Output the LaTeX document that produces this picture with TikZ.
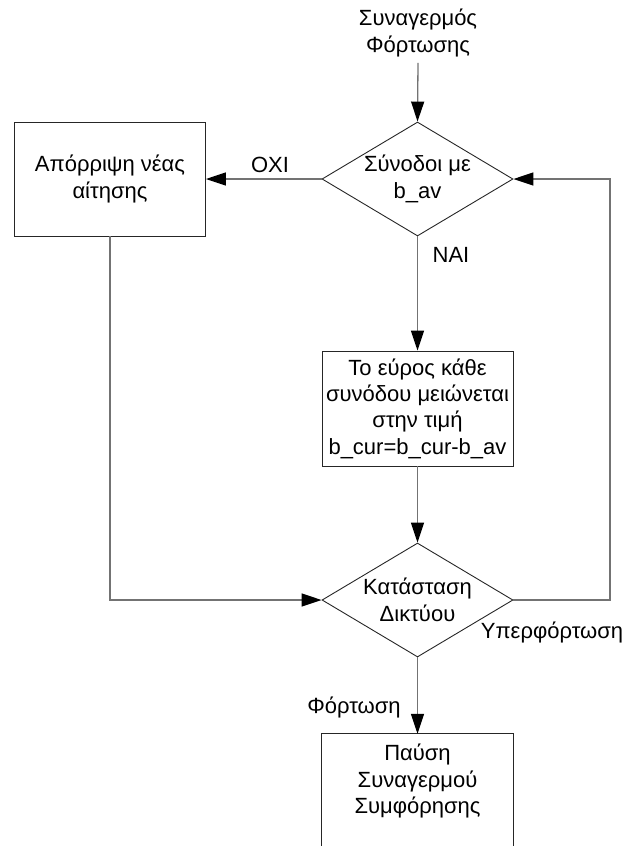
\documentclass[tikz,border=0pt]{standalone}
\usepackage{fontspec}
\setmainfont{Liberation Sans}
\usetikzlibrary{shapes.geometric,arrows.meta}
\begin{document}
\begin{tikzpicture}[x=1pt,y=-1pt,
  every node/.style={font=\fontsize{22}{26.4}\selectfont, inner sep=0pt},
  box/.style={draw=black!85, line width=0.9pt, rectangle, minimum width=191pt, minimum height=114pt, align=center},
  decision/.style={draw=black!85, line width=0.9pt, diamond, minimum width=191pt, minimum height=114pt, inner sep=0pt},
  flow/.style={draw=black!55, line width=1.3pt, -{Triangle[length=20pt,width=13pt,color=black]}},
  link/.style={draw=black!55, line width=1.3pt},
  tag/.style={align=center}]
\useasboundingbox (0,0) rectangle (632,846);

\node[tag] (start) at (418,33) {Συναγερμός\\Φόρτωσης};
\node[decision, label={[align=center]center:Σύνοδοι με\\b\_av}] (d1) at (417.5,179) {};
\node[box] (b1) at (110,179) {Απόρριψη νέας\\αίτησης};
\node[box, minimum height=115pt] (b2) at (417.5,408.5) {Το εύρος κάθε\\συνόδου μειώνεται\\στην τιμή\\b\_cur=b\_cur-b\_av};
\node[decision, label={[align=center]center:Κατάσταση\\Δικτύου}] (d2) at (417.5,600) {};
\node[rectangle, minimum width=191pt, minimum height=112pt, label={[align=center, yshift=9pt]center:Παύση\\Συναγερμού\\Συμφόρησης}] (b3) at (417.5,790) {};

% edge labels
\node (no) at (270,165) {ΟΧΙ};
\node (yes) at (451,255) {ΝΑΙ};
\node (over) at (552,632) {Υπερφόρτωση};
\node (load) at (354,707) {Φόρτωση};

% open-bottomed final box
\draw[black!85, line width=0.9pt] (b3.south west) -- (b3.north west) -- (b3.north east) -- (b3.south east);

% connectors
\coordinate (loopR) at (610,600);
\coordinate (loopT) at (610,179);
\draw[flow] (start.south) ++(0,6) -- (d1.north);
\draw[flow] (d1.west) -- (b1.east);
\draw[flow] (d1.south) -- (b2.north);
\draw[flow] (b2.south) -- (d2.north);
\draw[flow] (b1.south) |- (d2.west);
\draw[flow] (d2.east) -- (loopR) -- (loopT) -- (d1.east);
\draw[flow] (d2.south) -- (b3.north);
\end{tikzpicture}
\end{document}
